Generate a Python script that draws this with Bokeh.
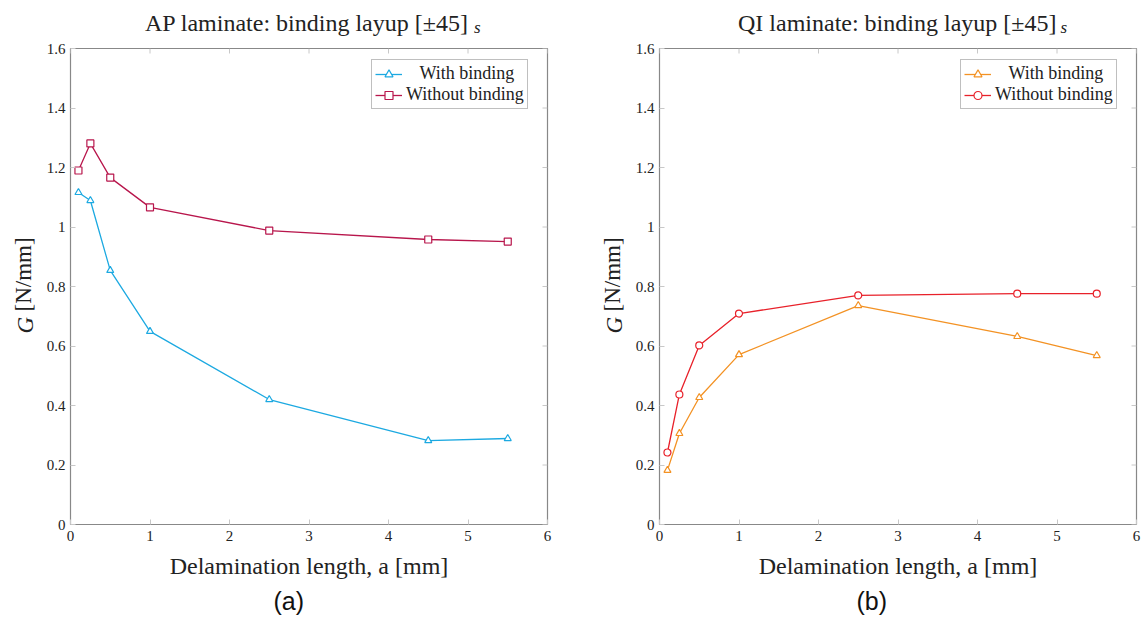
import math
from bokeh.plotting import figure
from bokeh.layouts import row
from bokeh.models import (Range1d, LinearAxis, FixedTicker, CustomJSTickFormatter,
                          Legend, LegendItem, Title)
from bokeh.embed import file_html
from bokeh.resources import INLINE

# ---------------- data ----------------
a_mm = [0.1, 0.25, 0.5, 1.0, 2.5, 4.5, 5.5]

ap_with = [1.116, 1.089, 0.854, 0.649, 0.420, 0.282, 0.289]
ap_without = [1.190, 1.281, 1.166, 1.066, 0.988, 0.958, 0.951]

qi_with = [0.182, 0.306, 0.427, 0.571, 0.736, 0.632, 0.568]
qi_without = [0.242, 0.437, 0.602, 0.709, 0.770, 0.776, 0.776]

x_ticks = [0, 1, 2, 3, 4, 5, 6]
y_ticks = [0, 0.2, 0.4, 0.6, 0.8, 1, 1.2, 1.4, 1.6]

titles = ["AP laminate: binding layup [\u00b145]", "QI laminate: binding layup [\u00b145]"]
title_sub = "s"
x_label = "Delamination length, a [mm]"
y_label_sym = "G"
y_label_unit = "[N/mm]"
panel_labels = ["(a)", "(b)"]
legend_labels = ["\u00a0\u00a0\u00a0With binding", "Without binding"]

SERIF = "Liberation Serif"
FRAME_COL = "#888888"
TICK_COL = "#c8c8c8"
TXT = "#222222"


def make_panel(series, colors, markers, title, panel_label, left, right, cfg):
    p = figure(width=571, height=623, x_range=Range1d(0, 6), y_range=Range1d(0, 1.6),
               output_backend="svg", toolbar_location=None, tools="",
               min_border_left=left, min_border_right=right,
               min_border_top=48, min_border_bottom=99,
               x_axis_location=None, y_axis_location=None)
    p.grid.visible = False
    p.outline_line_color = FRAME_COL
    p.outline_line_width = 1.2
    p.background_fill_color = "white"
    p.border_fill_color = "white"

    xfmt = CustomJSTickFormatter(code="return tick.toFixed(0);")
    yfmt = CustomJSTickFormatter(code="return tick.toFixed(1).replace(/\\.0$/, '');")

    def style(ax):
        ax.axis_line_color = None
        ax.major_tick_in = 5
        ax.major_tick_out = 0
        ax.minor_tick_in = 0
        ax.minor_tick_out = 0
        ax.major_tick_line_color = TICK_COL
        ax.major_tick_line_width = 1
        ax.major_label_text_font = SERIF
        ax.major_label_text_font_size = "15px"
        ax.major_label_text_color = TXT

    bx = LinearAxis(ticker=FixedTicker(ticks=x_ticks), formatter=xfmt)
    style(bx)
    bx.major_label_standoff = 6
    bx.axis_label = x_label
    bx.axis_label_text_font = SERIF
    bx.axis_label_text_font_size = "24px"
    bx.axis_label_text_font_style = "normal"
    bx.axis_label_text_color = TXT
    bx.axis_label_standoff = 9
    p.add_layout(bx, "below")
    ly = LinearAxis(ticker=FixedTicker(ticks=y_ticks), formatter=yfmt)
    style(ly)
    ly.major_label_standoff = 5
    p.add_layout(ly, "left")

    # inward tick marks on the top and right frame edges
    p.ray(x=x_ticks, y=[y_ticks[-1]] * len(x_ticks), length=5, length_units="screen",
          angle=-math.pi / 2, line_color=TICK_COL, line_width=1)
    p.ray(x=[x_ticks[-1]] * len(y_ticks), y=y_ticks, length=5, length_units="screen",
          angle=math.pi, line_color=TICK_COL, line_width=1)

    items = []
    for (ys, col, mk, lab) in zip(series, colors, markers, legend_labels):
        r1 = p.line(a_mm, ys, line_color=col, line_width=1.3)
        r2 = p.scatter(a_mm, ys, marker=mk, size=7, line_color=col, line_width=1.2,
                       fill_color="white")
        items.append(LegendItem(label=lab, renderers=[r1, r2]))

    legend = Legend(items=items, location=(301, 415))
    legend.label_text_font = SERIF
    legend.label_text_font_size = "18px"
    legend.label_text_color = TXT
    legend.glyph_width = 27
    legend.glyph_height = 20
    legend.label_height = 20
    legend.label_standoff = 4
    legend.spacing = 0
    legend.padding = 3
    legend.margin = 0
    legend.border_line_color = "#808080"
    legend.border_line_width = 1.2
    legend.background_fill_alpha = 1
    p.add_layout(legend, "center")

    # title: subscript panel nearest the frame, main text pulled back onto its line
    p.add_layout(Title(text=title_sub, align="left", offset=cfg["sub_off"], standoff=24,
                       text_font=SERIF, text_font_size="17px", text_font_style="italic",
                       text_color=TXT), "above")
    p.add_layout(Title(text=title, align="left", offset=cfg["title_off"], standoff=-65,
                       text_font=SERIF, text_font_size="24px", text_font_style="normal",
                       text_color=TXT), "above")
    # y label
    p.add_layout(Title(text=y_label_unit, align="left", offset=213, standoff=13,
                       vertical_align="middle",
                       text_font=SERIF, text_font_size="23px", text_font_style="normal",
                       text_color=TXT), "left")
    p.add_layout(Title(text=y_label_sym, align="left", offset=191, standoff=-69,
                       text_font=SERIF, text_font_size="23px", text_font_style="italic",
                       text_color=TXT), "left")
    # panel label
    p.add_layout(Title(text=panel_label, align="left", offset=cfg["panel_off"], standoff=6,
                       text_font="Liberation Sans", text_font_size="25px",
                       text_font_style="normal", text_color="#111111"), "below")
    return p


p1 = make_panel([ap_with, ap_without], ["#1CA9E1", "#B8164C"], ["triangle", "square"],
                titles[0], panel_labels[0], 70, 24,
                dict(title_off=74.5, sub_off=403.5, panel_off=203))
p2 = make_panel([qi_with, qi_without], ["#F39224", "#E8212A"], ["triangle", "circle"],
                titles[1], panel_labels[1], 88, 6,
                dict(title_off=78.5, sub_off=401, panel_off=197))

layout = row(p1, p2)
open("out.html", "w").write(file_html(layout, INLINE))
